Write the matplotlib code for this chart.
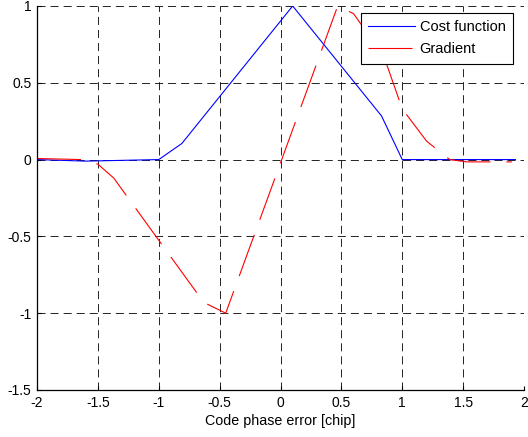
import matplotlib
matplotlib.use('Agg')
import matplotlib.pyplot as plt
from matplotlib.ticker import FormatStrFormatter

plt.rcParams['font.family'] = ['Liberation Sans', 'DejaVu Sans']
plt.rcParams['axes.unicode_minus'] = False
plt.rcParams['lines.scale_dashes'] = False

# cost function samples:
cost_x = [-2.0, -1.6, -1.0, -0.81, 0.10, 0.83, 1.0, 1.93]
cost_y = [0.0, -0.01, 0.0, 0.105, 1.0, 0.284, 0.0, 0.0]

# gradient samples:
grad_x = [-2.0, -1.63, -1.5, -1.37, -0.63, -0.45, 0.47, 0.6, 0.85, 1.0, 1.2, 1.39, 1.53, 1.9]
grad_y = [0.007, 0.0, -0.03, -0.12, -0.93, -1.0, 1.0, 0.95, 0.67, 0.33, 0.12, 0.0, -0.015, -0.015]

# ticks:
xticks = [-2, -1.5, -1, -0.5, 0, 0.5, 1, 1.5, 2]
yticks = [-1.5, -1, -0.5, 0, 0.5, 1]

fig = plt.figure(figsize=(5.28, 4.37), dpi=100)
ax = fig.add_axes([0.0701, 0.1076, 0.9223, 0.8787])

ax.plot(cost_x, cost_y, color=(0, 0, 1), lw=0.8, label='Cost function')
ax.plot(grad_x, grad_y, color=(1, 0, 0), lw=0.8, linestyle=(0, (31.7, 11.5)), label='Gradient')

ax.set_xlim(-2, 2)
ax.set_ylim(-1.5, 1)
ax.set_xticks(xticks)
ax.set_yticks(yticks)
ax.xaxis.set_major_formatter(FormatStrFormatter('%g'))
ax.yaxis.set_major_formatter(FormatStrFormatter('%g'))
ax.tick_params(direction='in', length=3, width=0.8, labelsize=10, pad=4)

ax.grid(True, color='k', lw=0.6, linestyle=(0, (5.8, 3.6)))
ax.set_axisbelow(True)
for s in ['top', 'right']:
    ax.spines[s].set_visible(False)
for s in ['left', 'bottom']:
    ax.spines[s].set_linewidth(0.9)

ax.set_xlabel('Code phase error [chip]', fontsize=10.3, labelpad=3)

leg = ax.legend(loc='upper right', bbox_to_anchor=(0.977, 0.982), borderaxespad=0,
                fontsize=10.5, handlelength=3.2, handletextpad=0.35, borderpad=0.5,
                labelspacing=0.55, fancybox=False, framealpha=1)
leg.get_frame().set_edgecolor('k')
leg.get_frame().set_linewidth(0.8)

fig.savefig('out.png', dpi=100)
